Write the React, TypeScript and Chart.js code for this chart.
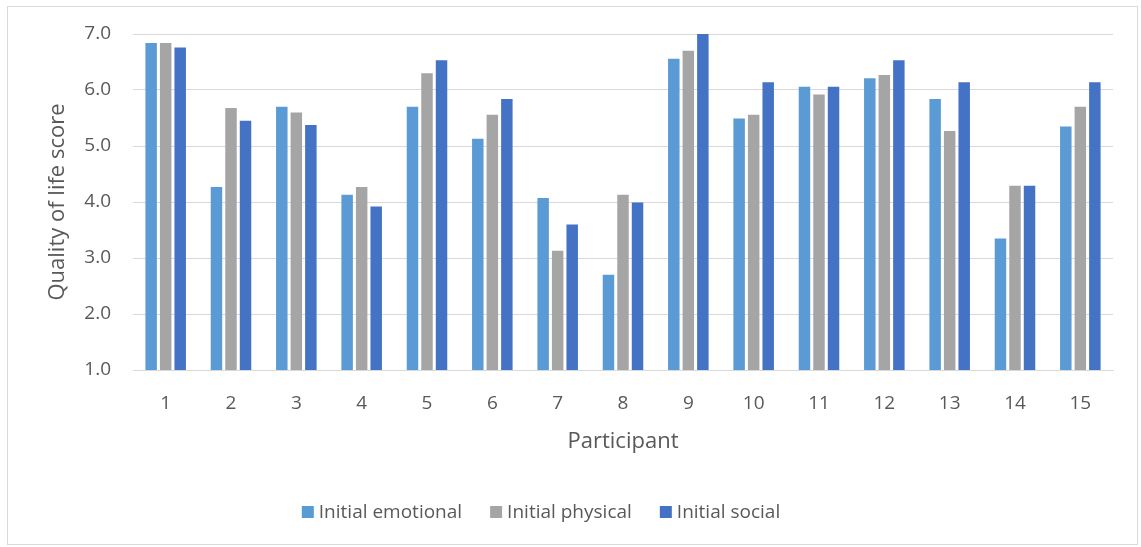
import React, { useEffect, useRef } from "react";
import { Chart, registerables } from "chart.js";

Chart.register(...registerables);

const participants = ["1", "2", "3", "4", "5", "6", "7", "8", "9", "10", "11", "12", "13", "14", "15"];
const initialEmotional = [6.84, 4.27, 5.7, 4.13, 5.7, 5.13, 4.07, 2.7, 6.56, 5.49, 6.06, 6.21, 5.84, 3.35, 5.35];
const initialPhysical = [6.84, 5.68, 5.6, 4.27, 6.3, 5.56, 3.13, 4.13, 6.7, 5.56, 5.92, 6.27, 5.27, 4.29, 5.7];
const initialSocial = [6.76, 5.45, 5.375, 3.92, 6.53, 5.84, 3.6, 3.99, 7.0, 6.14, 6.06, 6.53, 6.14, 4.29, 6.14];
const seriesLabels = ["Initial emotional", "Initial physical", "Initial social"];
const seriesColors = ["#5B9BD5", "#A5A5A5", "#4472C4"];
const yAxisTitle = "Quality of life score";
const xAxisTitle = "Participant";

const FONT = '"Open Sans", "Noto Sans", sans-serif';
const TEXT = "#595959";
const GRID = "#d9d9d9";

const customLegend = {
  id: "customLegend",
  afterDraw(chart: any) {
    const ctx = chart.ctx;
    ctx.save();
    ctx.font = `19px ${FONT}`;
    ctx.textBaseline = "middle";
    ctx.textAlign = "left";
    const box = 12;
    const gapBox = 5;
    const gapItem = 28;
    const items = chart.data.datasets.map((ds: any) => ({
      label: ds.label,
      color: ds.backgroundColor,
      w: ctx.measureText(ds.label).width,
    }));
    const total =
      items.reduce((s: number, it: any) => s + box + gapBox + it.w, 0) + gapItem * (items.length - 1);
    let x = 533 - total / 2;
    const y = 505;
    for (const it of items) {
      ctx.fillStyle = it.color;
      ctx.fillRect(x, y - box / 2, box, box);
      x += box + gapBox;
      ctx.fillStyle = TEXT;
      ctx.fillText(it.label, x, y + 1);
      x += it.w + gapItem;
    }
    ctx.restore();
  },
};

const yTitlePlugin = {
  id: "yTitle",
  afterDraw(chart: any) {
    const ctx = chart.ctx;
    const area = chart.chartArea;
    ctx.save();
    ctx.font = `22px ${FONT}`;
    ctx.fillStyle = TEXT;
    ctx.textAlign = "center";
    ctx.textBaseline = "middle";
    ctx.translate(50, (area.top + area.bottom) / 2);
    ctx.rotate(-Math.PI / 2);
    ctx.fillText(yAxisTitle, 0, 0);
    ctx.restore();
  },
};

export default function App() {
  const canvasRef = useRef<HTMLCanvasElement | null>(null);

  useEffect(() => {
    if (!canvasRef.current) return;
    const chart = new Chart(canvasRef.current, {
      type: "bar",
      data: {
        labels: participants,
        datasets: [initialEmotional, initialPhysical, initialSocial].map((d, i) => ({
          label: seriesLabels[i],
          data: d,
          backgroundColor: seriesColors[i],
          borderWidth: 0,
          barPercentage: 0.79,
          categoryPercentage: 0.667,
        })),
      },
      options: {
        animation: false,
        responsive: true,
        maintainAspectRatio: false,
        layout: { padding: { left: 33, right: 24, top: 27, bottom: 87 } },
        plugins: {
          legend: { display: false },
          tooltip: { enabled: false },
        },
        scales: {
          x: {
            afterFit: (scale: any) => {
              scale.height = 87;
              scale.paddingLeft = 0;
              scale.paddingRight = 0;
            },
            grid: { display: false, drawTicks: false },
            border: { display: true, color: GRID, width: 1 },
            ticks: { color: TEXT, font: { family: FONT, size: 19 }, padding: 22, maxRotation: 0 },
            title: {
              display: true,
              text: xAxisTitle,
              color: TEXT,
              font: { family: FONT, size: 22 },
              padding: { top: 12, bottom: 2 },
            },
          },
          y: {
            min: 1,
            max: 7,
            afterFit: (scale: any) => {
              scale.width = 92;
              scale.paddingTop = 0;
              scale.paddingBottom = 0;
            },
            grid: { color: GRID, lineWidth: 1, drawTicks: false },
            border: { display: false },
            ticks: {
              stepSize: 1,
              color: TEXT,
              font: { family: FONT, size: 19 },
              padding: 22,
              callback: (v: any) => Number(v).toFixed(1),
            },
            title: { display: false },
          },
        },
      },
      plugins: [customLegend, yTitlePlugin],
    });
    return () => chart.destroy();
  }, []);

  return (
    <div
      style={{
        position: "fixed",
        left: 7,
        top: 6,
        width: 1131,
        height: 539,
        boxSizing: "border-box",
        border: "1px solid #d9d9d9",
        background: "#fff",
      }}
    >
      <div style={{ position: "relative", width: "100%", height: "100%" }}>
        <canvas ref={canvasRef} />
      </div>
    </div>
  );
}
